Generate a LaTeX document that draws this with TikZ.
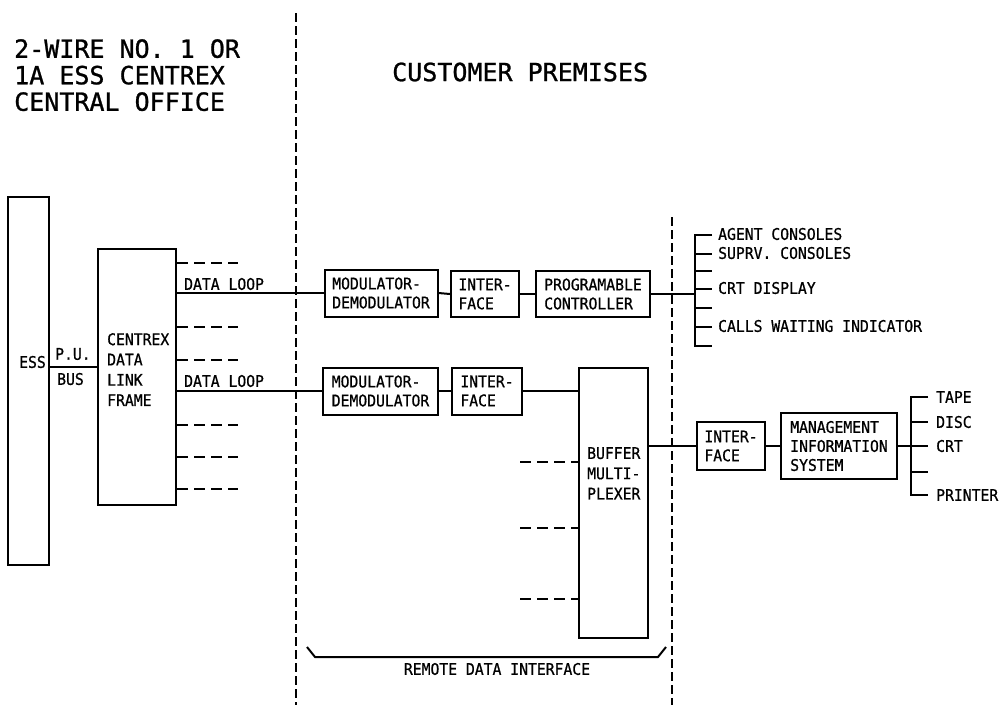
\documentclass[tikz,border=0pt]{standalone}
\usepackage{fontspec}
\newfontfamily\lettering[FakeStretch=0.92,FakeBold=0.8]{DejaVu Sans Mono}
\newfontfamily\titlelettering[FakeBold=1]{DejaVu Sans Mono}
\begin{document}
\begin{tikzpicture}[x=1pt,y=-1pt,
  ln/.style={line width=2pt},
  box/.style={draw, line width=2pt, inner sep=0pt, align=left,
    font=\lettering\fontsize{16}{19}\selectfont},
  txt/.style={inner sep=0pt, align=left, anchor=north west,
    font=\lettering\fontsize{16}{20.3}\selectfont},
  lbl/.style={inner sep=0pt, anchor=west, font=\lettering\fontsize{16}{18}\selectfont},
  divider/.style={line width=2.2pt, dash pattern=on 9pt off 4pt},
  stub/.style={line width=2pt, dash pattern=on 11pt off 6pt},
  bigtxt/.style={inner sep=0pt, align=left, font=\titlelettering\fontsize{25}{26.5}\selectfont}
]
\useasboundingbox (0,0) rectangle (1001,705);

% dividers
\coordinate (dlt) at (296,13);
\coordinate (dlb) at (296,705);
\coordinate (drt) at (672,217);
\coordinate (drb) at (672,705);
\draw[divider] (dlt) -- (dlb);
\draw[divider] (drt) -- (drb);

% headings
\node[bigtxt, anchor=north west] (title) at (14,39) {2-WIRE NO. 1 OR\\1A ESS CENTREX\\CENTRAL OFFICE};
\node[bigtxt, anchor=west] (cust) at (392,72) {CUSTOMER PREMISES};

% central office boxes
\node[box, minimum width=41pt, minimum height=368pt] (ess) at (28.5,381) {};
\node[lbl] (esstext) at (19,362) {ESS};
\node[box, minimum width=78pt, minimum height=256pt] (cdlf) at (137,377) {};
\node[txt] (cdlftext) at (107,333) {CENTREX\\DATA\\LINK\\FRAME};
\draw[ln] (ess.east |- 0,367) coordinate (pub1) -- (pub1 -| cdlf.west) coordinate (pub2);
\node[lbl] (pu) at (55,354) {P.U.};
\node[lbl] (bus) at (57,379) {BUS};

% customer premises boxes
\node[box, minimum width=113pt, minimum height=47pt] (mod1) at (381,293) {MODULATOR-\\DEMODULATOR};
\node[box, minimum width=68pt, minimum height=46pt] (int1) at (485,294) {INTER-\\FACE};
\node[box, minimum width=114pt, minimum height=46pt] (prog) at (593,294) {PROGRAMABLE\\CONTROLLER};
\node[box, minimum width=115pt, minimum height=47pt] (mod2) at (380.5,391) {MODULATOR-\\DEMODULATOR};
\node[box, minimum width=70pt, minimum height=47pt] (int2) at (487,391) {INTER-\\FACE};
\node[box, minimum width=69pt, minimum height=270pt] (buf) at (613.5,503) {};
\node[txt] (buftext) at (587,447) {BUFFER\\MULTI-\\PLEXER};
\node[box, minimum width=68pt, minimum height=48pt] (int3) at (731,446) {INTER-\\FACE};
\node[box, minimum width=116pt, minimum height=66pt] (mis) at (839,446) {MANAGEMENT\\INFORMATION\\SYSTEM};

% data loops
\draw[ln] (cdlf.east |- mod1.west) -- (mod1.west);
\node[lbl] (dl1) at (184,284) {DATA LOOP};
\draw[ln] (cdlf.east |- mod2.west) -- (mod2.west);
\node[lbl] (dl2) at (184,381) {DATA LOOP};

% dashed stubs from CDLF
\foreach \yy in {263,327,360,425,457,489}{
  \draw[stub] (cdlf.east |- 0,\yy) -- (238,\yy);
}

% chains
\draw[ln] (mod1.east) -- (int1.west);
\draw[ln] (int1.east) -- (prog.west);
\draw[ln] (mod2.east) -- (int2.west);
\draw[ln] (int2.east) -- (int2.east -| buf.west);
\draw[ln] (buf.east |- int3.west) -- (int3.west);
\draw[ln] (int3.east) -- (mis.west);

% buffer stubs
\foreach \yy in {462,528,599}{
  \draw[stub] (520,\yy) -- (buf.west |- 0,\yy);
}

% controller outputs
\coordinate (b1) at (695,294);
\draw[ln] (prog.east) -- (b1);
\draw[ln] (712,235) -- (695,235) -- (695,346) -- (712,346);
\foreach \yy in {254,271,289,308,327}{
  \draw[ln] (695,\yy) -- (712,\yy);
}
\node[lbl] (agent) at (718,234) {AGENT CONSOLES};
\node[lbl] (suprv) at (718,253) {SUPRV. CONSOLES};
\node[lbl] (crtd) at (718,288) {CRT DISPLAY};
\node[lbl] (cwi) at (718,326) {CALLS WAITING INDICATOR};

% MIS outputs
\coordinate (b2) at (911,446);
\draw[ln] (mis.east) -- (b2);
\draw[ln] (928,397) -- (911,397) -- (911,495) -- (928,495);
\foreach \yy in {422,446,472}{
  \draw[ln] (911,\yy) -- (928,\yy);
}
\node[lbl] (tape) at (936,397) {TAPE};
\node[lbl] (disc) at (936,422) {DISC};
\node[lbl] (crt) at (936,446) {CRT};
\node[lbl] (printer) at (936,495) {PRINTER};

% remote data interface brace
\draw[ln] (307,647) -- (315,657) -- (658,657) -- (666,647);
\node[inner sep=0pt, font=\lettering\fontsize{16}{18}\selectfont] (rdi) at (497,669) {REMOTE DATA INTERFACE};
\end{tikzpicture}
\end{document}
